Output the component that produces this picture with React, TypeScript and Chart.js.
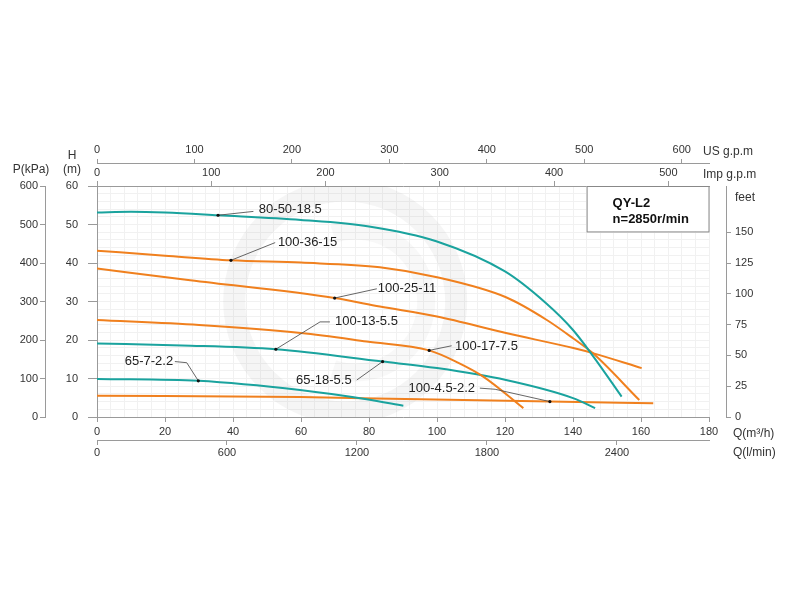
import { useEffect, useRef } from "react";
import { Chart, registerables } from "chart.js";
Chart.register(...registerables);

const TEAL = "#1aa39e";
const ORANGE = "#f0801e";
const FONT = "'Liberation Sans', Arial, sans-serif";

// Flow Q (m³/h) and head H (m) for each pump curve
const q_80_50_18_5 = [0, 10, 20, 35.6, 60, 80, 100, 120, 132, 140, 146, 154.3];
const h_80_50_18_5 = [53.1, 53.3, 53.1, 52.4, 51.2, 49.5, 45.6, 37.8, 29.6, 22.6, 15.7, 5.3];

const q_100_36_15 = [0, 20, 39.4, 60, 83.2, 100, 120.3, 132.3, 140.1, 145.8, 159.5];
const h_100_36_15 = [43.2, 41.9, 40.7, 40.1, 38.9, 36.3, 31.1, 25.2, 20.4, 16.6, 4.4];

const q_100_25_11 = [0, 27.4, 69.9, 83.2, 100, 120.3, 140.1, 145.8, 160.2];
const h_100_25_11 = [38.6, 35.5, 30.9, 28.7, 26.1, 21.8, 17.9, 16.6, 12.7];

const q_100_17_7_5 = [0, 30, 60, 79.3, 97.7, 106, 113.6, 125.4];
const h_100_17_7_5 = [25.2, 23.9, 21.8, 19.6, 17.3, 14.2, 10.5, 2.3];

const q_65_18_5_5 = [0, 25, 52.6, 84, 100, 120.3, 140, 146.5];
const h_65_18_5_5 = [19.1, 18.6, 17.6, 14.4, 12.7, 9.6, 4.9, 2.3];

const q_65_7_2_2 = [0, 29.8, 59.7, 79.3, 90.1];
const h_65_7_2_2 = [9.9, 9.4, 7.0, 4.6, 2.9];

const q_100_4_5_2_2 = [0, 59.7, 95, 133.2, 163.6];
const h_100_4_5_2_2 = [5.5, 5.2, 4.6, 4.0, 3.6];

const curveNames = ["80-50-18.5", "100-36-15", "100-25-11", "100-17-7.5", "65-18-5.5", "65-7-2.2", "100-4.5-2.2"];
const curveQ = [q_80_50_18_5, q_100_36_15, q_100_25_11, q_100_17_7_5, q_65_18_5_5, q_65_7_2_2, q_100_4_5_2_2];
const curveH = [h_80_50_18_5, h_100_36_15, h_100_25_11, h_100_17_7_5, h_65_18_5_5, h_65_7_2_2, h_100_4_5_2_2];
const curveColors = [TEAL, ORANGE, ORANGE, ORANGE, TEAL, TEAL, ORANGE];

// Callout labels (in data units Q, H)
const labelTexts = ["80-50-18.5", "100-36-15", "100-25-11", "100-13-5.5", "65-7-2.2", "65-18-5.5", "100-17-7.5", "100-4.5-2.2"];
const labelDots = [[35.6, 52.4], [39.4, 40.7], [69.9, 30.9], [52.6, 17.6], [29.8, 9.4], [84, 14.4], [97.7, 17.3], [133.2, 4.0]];
const labelPaths = [
  [[46.0, 53.4]],
  [[52.4, 45.3]],
  [[82.3, 33.3]],
  [[65.6, 24.7], [68.5, 24.7]],
  [[26.4, 14.1], [22.9, 14.4]],
  [[76.4, 9.6]],
  [[104.3, 18.5]],
  [[117.1, 7.2], [112.6, 7.5]],
];
const labelAnchors = [[47.6, 53.8], [53.2, 45.4], [82.6, 33.5], [70, 24.8], [22.4, 14.4], [74.9, 9.6], [105.3, 18.3], [111.2, 7.5]];
const labelAlign = ["left", "left", "left", "left", "right", "right", "left", "right"];

// Info box
const boxLines = ["QY-L2", "n=2850r/min"];
const boxQLeft = 144;
const boxHBottom = 48.2;

// Faint background logo (centre in data units)
const logoCentre = [73, 30];

// Axis ranges and tick labels
const qMax = 180;
const qTicks = [0, 20, 40, 60, 80, 100, 120, 140, 160, 180];
const lminMax = 2825;
const lminTicks = [0, 600, 1200, 1800, 2400];
const usMax = 628;
const usTicks = [0, 100, 200, 300, 400, 500, 600];
const impMax = 535.6;
const impTicks = [0, 100, 200, 300, 400, 500];
const hMax = 60;
const hTicks = [0, 10, 20, 30, 40, 50, 60];
const pMax = 600;
const pTicks = [0, 100, 200, 300, 400, 500, 600];
const feetMax = 187.6;
const feetTicks = [0, 25, 50, 75, 100, 125, 150];
const qMinorStep = 4;
const hMinorStep = 2;

const tickFont = { family: FONT, size: 11 };
const GRID = "#9a9a9a";
const AXIS = "#9a9a9a";
const TXT = "#333";

const range = (max: number, step: number) => {
  const out: number[] = [];
  for (let v = 0; v <= max + 1e-9; v += step) out.push(+v.toFixed(6));
  return out;
};
const setTicks = (vals: number[]) => (s: any) => { s.ticks = vals.map((v) => ({ value: v })); };

const annotate = {
  id: "annotate",
  beforeDatasetsDraw(chart: any) {
    const { ctx, chartArea } = chart;
    const xs = chart.scales.x, ys = chart.scales.y;
    // faint watermark ring
    ctx.save();
    ctx.beginPath();
    ctx.rect(chartArea.left, chartArea.top, chartArea.right - chartArea.left, chartArea.bottom - chartArea.top);
    ctx.clip();
    const cx = xs.getPixelForValue(logoCentre[0]);
    const cy = ys.getPixelForValue(logoCentre[1]);
    ctx.fillStyle = "rgba(120,120,120,0.07)";
    ctx.beginPath();
    ctx.arc(cx, cy, 122, 0, Math.PI * 2);
    ctx.arc(cx, cy, 100, 0, Math.PI * 2, true);
    ctx.fill();
    ctx.fillStyle = "rgba(120,120,120,0.05)";
    ctx.beginPath();
    ctx.arc(cx + 10, cy, 80, -Math.PI * 0.6, Math.PI * 0.6);
    ctx.arc(cx + 10, cy, 62, Math.PI * 0.6, -Math.PI * 0.6, true);
    ctx.closePath();
    ctx.fill();
    ctx.restore();

    const l = xs.getPixelForValue(boxQLeft);
    const t = ys.getPixelForValue(hMax);
    const b = ys.getPixelForValue(boxHBottom);
    ctx.save();
    ctx.fillStyle = "#fff";
    ctx.fillRect(l, t, chartArea.right - l, b - t);
    ctx.strokeStyle = "#888";
    ctx.lineWidth = 1;
    ctx.strokeRect(l + 0.5, t + 0.5, chartArea.right - l - 0.5, b - t);
    ctx.fillStyle = "#111";
    ctx.font = `bold 13px ${FONT}`;
    ctx.textAlign = "left";
    ctx.textBaseline = "middle";
    ctx.fillText(boxLines[0], l + 26, t + 17);
    ctx.fillText(boxLines[1], l + 26, t + 33);
    ctx.restore();
  },
  afterDatasetsDraw(chart: any) {
    const { ctx } = chart;
    const xs = chart.scales.x, ys = chart.scales.y;
    ctx.save();
    labelTexts.forEach((txt, i) => {
      const d = labelDots[i];
      ctx.strokeStyle = "#555";
      ctx.lineWidth = 0.9;
      ctx.beginPath();
      ctx.moveTo(xs.getPixelForValue(d[0]), ys.getPixelForValue(d[1]));
      labelPaths[i].forEach((p) => ctx.lineTo(xs.getPixelForValue(p[0]), ys.getPixelForValue(p[1])));
      ctx.stroke();
      ctx.fillStyle = "#111";
      ctx.beginPath();
      ctx.arc(xs.getPixelForValue(d[0]), ys.getPixelForValue(d[1]), 1.6, 0, Math.PI * 2);
      ctx.fill();
      const a = labelAnchors[i];
      ctx.font = `13px ${FONT}`;
      ctx.fillStyle = "#222";
      ctx.textAlign = labelAlign[i] as CanvasTextAlign;
      ctx.textBaseline = "middle";
      ctx.fillText(txt, xs.getPixelForValue(a[0]), ys.getPixelForValue(a[1]));
    });
    ctx.restore();
  },
  afterDraw(chart: any) {
    const { ctx, chartArea } = chart;
    ctx.save();
    ctx.fillStyle = TXT;
    ctx.font = `12px ${FONT}`;
    ctx.textBaseline = "middle";
    ctx.textAlign = "left";
    const r = chartArea.right;
    ctx.fillText("US g.p.m", r - 6, 151.5);
    ctx.fillText("Imp g.p.m", r - 6, 174.5);
    ctx.fillText("feet", r + 26, 198);
    ctx.fillText("Q(m³/h)", r + 24, 434);
    ctx.fillText("Q(l/min)", r + 24, 453);
    ctx.textAlign = "center";
    ctx.fillText("P(kPa)", 31, 169.5);
    ctx.fillText("H", 72, 155.5);
    ctx.fillText("(m)", 72, 169.5);
    ctx.restore();
  },
};

export default function App() {
  const ref = useRef<HTMLCanvasElement>(null);
  useEffect(() => {
    if (!ref.current) return;
    const datasets = curveNames.map((name, i) => ({
      label: name,
      data: curveQ[i].map((q, j) => ({ x: q, y: curveH[i][j] })),
      borderColor: curveColors[i],
      backgroundColor: curveColors[i],
      borderWidth: 2,
      pointRadius: 0,
      showLine: true,
      cubicInterpolationMode: "monotone" as const,
      xAxisID: "x",
      yAxisID: "y",
    }));
    const tk = (extra: any = {}) => ({
      font: tickFont, color: TXT, maxRotation: 0, autoSkip: false,
      callback: (v: any) => String(v), ...extra,
    });
    const chart = new Chart(ref.current, {
      type: "scatter",
      data: { datasets },
      plugins: [annotate],
      options: {
        animation: false,
        responsive: false,
        layout: { padding: { left: 10, right: 14, top: 138, bottom: 140 } },
        plugins: { legend: { display: false }, tooltip: { enabled: false } },
        scales: {
          x: {
            type: "linear", position: "bottom", weight: 0, min: 0, max: qMax,
            afterBuildTicks: setTicks(qTicks),
            ticks: tk({ padding: 3 }),
            grid: { color: GRID, tickLength: 5 },
            border: { color: AXIS },
            afterFit: (s: any) => { s.height = 23; },
          },
          xL: {
            type: "linear", position: "bottom", weight: 1, min: 0, max: lminMax,
            afterBuildTicks: setTicks(lminTicks),
            ticks: tk({ padding: 1 }),
            grid: { drawOnChartArea: false, color: AXIS, tickLength: 5 },
            border: { color: AXIS },
            afterFit: (s: any) => { s.height = 20; },
          },
          xMinor: {
            type: "linear", position: "bottom", weight: 2, min: 0, max: qMax,
            afterBuildTicks: setTicks(range(qMax, qMinorStep)),
            ticks: { display: false, autoSkip: false },
            grid: { color: "#f1f1f1", drawTicks: false, z: -1 },
            border: { display: false },
            afterFit: (s: any) => { s.height = 0; },
          },
          xImp: {
            type: "linear", position: "top", weight: 0, min: 0, max: impMax,
            afterBuildTicks: setTicks(impTicks),
            ticks: tk({ padding: 1 }),
            grid: { drawOnChartArea: false, color: AXIS, tickLength: 5 },
            border: { color: AXIS },
            afterFit: (s: any) => { s.height = 23; },
          },
          xUS: {
            type: "linear", position: "top", weight: 1, min: 0, max: usMax,
            afterBuildTicks: setTicks(usTicks),
            ticks: tk({ padding: 2 }),
            grid: { drawOnChartArea: false, color: AXIS, tickLength: 4 },
            border: { color: AXIS },
            afterFit: (s: any) => { s.height = 25; },
          },
          y: {
            type: "linear", position: "left", weight: 0, min: 0, max: hMax,
            afterBuildTicks: setTicks(hTicks),
            ticks: tk({ padding: 10 }),
            grid: { color: GRID, tickLength: 9 },
            border: { color: AXIS },
            afterFit: (s: any) => { s.width = 52; },
          },
          yP: {
            type: "linear", position: "left", weight: 1, min: 0, max: pMax,
            afterBuildTicks: setTicks(pTicks),
            ticks: tk({ padding: 2 }),
            grid: { drawOnChartArea: false, color: AXIS, tickLength: 5 },
            border: { color: AXIS },
            afterFit: (s: any) => { s.width = 35; },
          },
          yMinor: {
            type: "linear", position: "left", weight: 2, min: 0, max: hMax,
            afterBuildTicks: setTicks(range(hMax, hMinorStep)),
            ticks: { display: false, autoSkip: false },
            grid: { color: "#f1f1f1", drawTicks: false, z: -1 },
            border: { display: false },
            afterFit: (s: any) => { s.width = 0; },
          },
          ySp: {
            type: "linear", position: "right", weight: 0, min: 0, max: 1,
            ticks: { display: false },
            grid: { display: false, drawTicks: false },
            border: { display: false },
            afterFit: (s: any) => { s.width = 17; },
          },
          yFeet: {
            type: "linear", position: "right", weight: 1, min: 0, max: feetMax,
            afterBuildTicks: setTicks(feetTicks),
            ticks: tk({ padding: 4 }),
            grid: { drawOnChartArea: false, color: AXIS, tickLength: 5 },
            border: { color: AXIS },
            afterFit: (s: any) => { s.width = 60; },
          },
        },
      } as any,
    });
    return () => chart.destroy();
  }, []);
  return (
    <div style={{ position: "absolute", left: 0, top: 0, width: 800, height: 600, background: "#fff" }}>
      <canvas ref={ref} width={800} height={600} />
    </div>
  );
}
